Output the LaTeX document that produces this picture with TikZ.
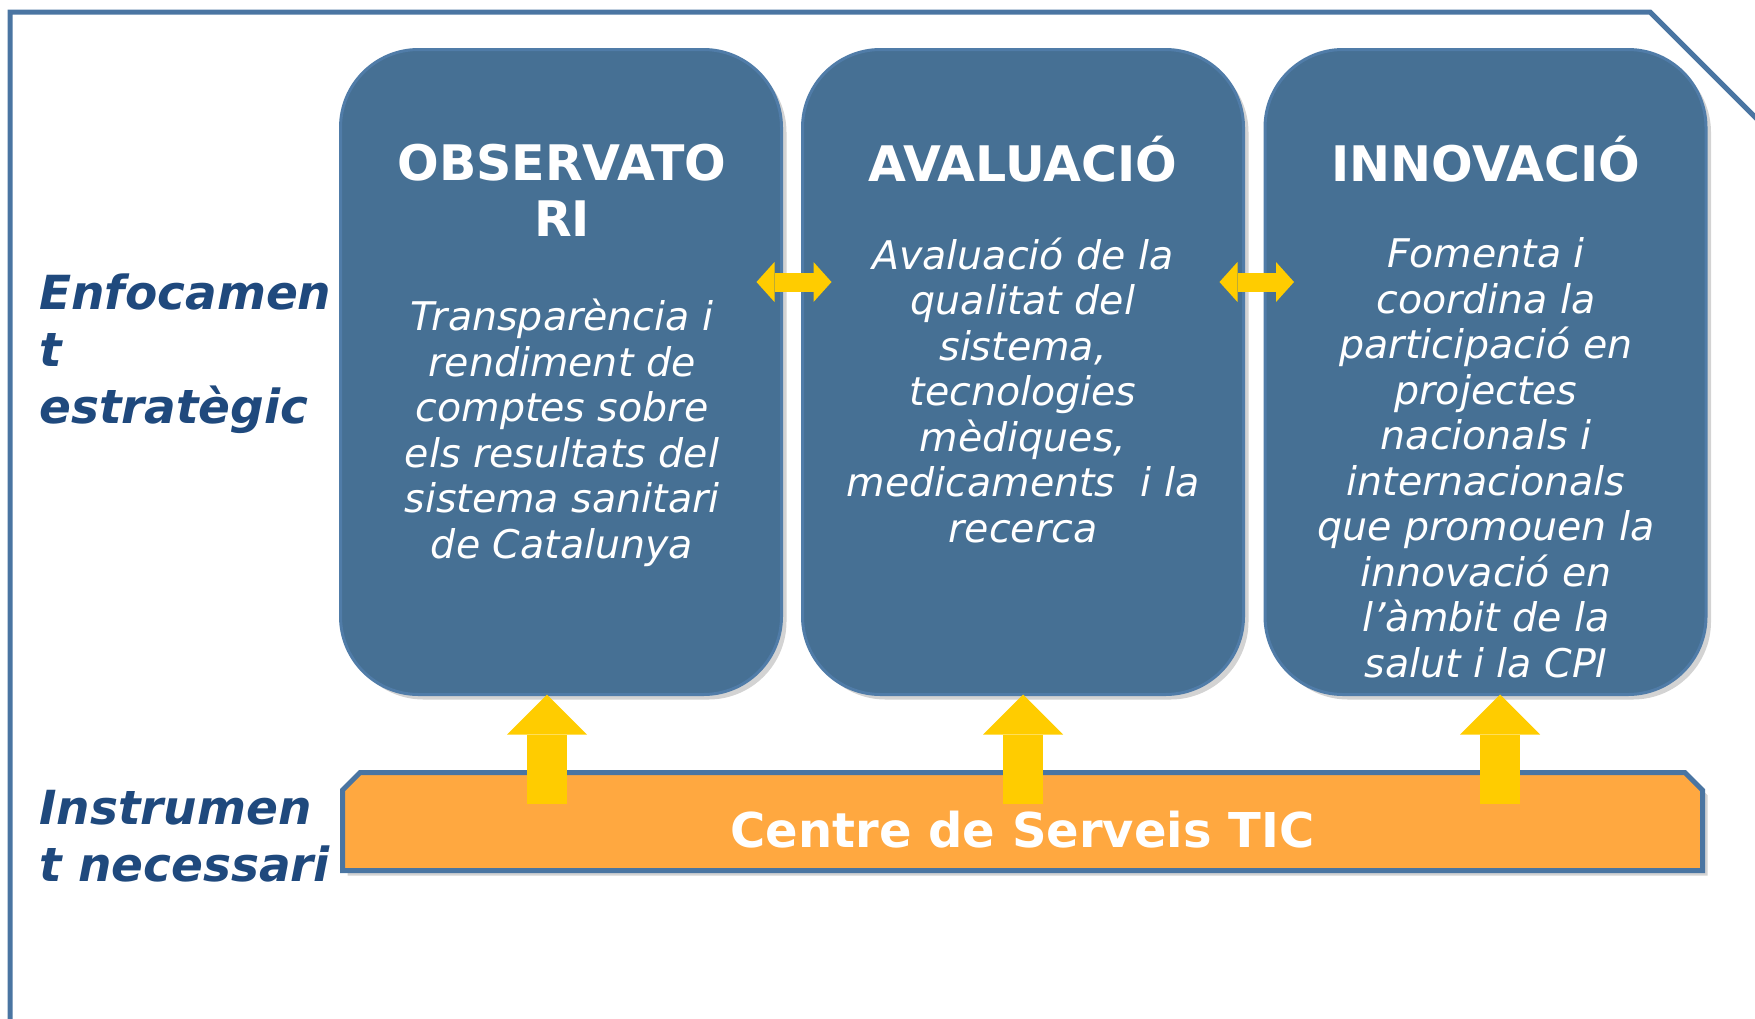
\documentclass[tikz,border=0pt]{standalone}
\usepackage{fontspec}
\setmainfont{DejaVu Sans}
\usetikzlibrary{arrows.meta,shapes.misc,shadows}

\definecolor{boxblue}{RGB}{70,112,148}
\definecolor{rimblue}{RGB}{80,124,168}
\definecolor{frameblue}{RGB}{74,117,162}
\definecolor{labelblue}{RGB}{31,73,125}
\definecolor{arrowyellow}{RGB}{255,204,0}
\definecolor{barorange}{RGB}{255,168,64}

\tikzset{
  pillar/.style={draw=rimblue, line width=3pt, fill=boxblue, rounded corners=78pt,
    minimum width=441pt, minimum height=645pt,
    drop shadow={shadow xshift=5pt, shadow yshift=-5pt, opacity=0.35}},
  headtext/.style={text=white, align=center, inner sep=0pt,
    font=\fontsize{49}{56}\selectfont\bfseries},
  bodytext/.style={text=white, align=center, inner sep=0pt,
    font=\fontsize{39.5}{45.5}\selectfont\itshape},
  sidetext/.style={text=labelblue, align=left, inner sep=0pt,
    font=\fontsize{47}{57}\selectfont\bfseries\itshape},
  twoway/.style={draw=arrowyellow, line width=19pt,
    {Triangle[length=18pt,width=40pt,line width=0pt]}-{Triangle[length=18pt,width=40pt,line width=0pt]}},
  uparrow/.style={draw=arrowyellow, line width=40pt,
    -{Triangle[length=40pt,width=80pt,line width=0pt]}}
}

\begin{document}
\begin{tikzpicture}[x=1pt, y=-1pt]
\useasboundingbox (0,0) rectangle (1755,1018);

% frame
\draw[frameblue, line width=5pt] (10,1030) -- (10,12) -- (1650,12) -- (1790,152);

% three pillars
\node[pillar] (obs) at (561,372) {};
\node[pillar] (aval) at (1023,372) {};
\node[pillar] (innov) at (1485.5,372) {};

\node[headtext] (obstitle) at (562,190) {OBSERVATO\\RI};
\node[headtext] (avaltitle) at (1023,159) {AVALUACIÓ};
\node[headtext] (innovtitle) at (1486,159) {INNOVACIÓ};

\node[bodytext] (obstext) at (562,433)
{Transparència i\\rendiment de\\comptes sobre\\els resultats del\\sistema sanitari\\de Catalunya};

\node[bodytext] (avaltext) at (1023,390)
{Avaluació de la\\qualitat del\\sistema,\\tecnologies\\mèdiques,\\medicaments~ i la\\recerca};

\node[bodytext] (innovtext) at (1486,458)
{Fomenta i\\coordina la\\participació en\\projectes\\nacionals i\\internacionals\\que promouen la\\innovació en\\l’àmbit de la\\salut i la CPI};

% side labels
\node[sidetext, anchor=west] (focus) at (39,354) {Enfocamen\\t\\estratègic};
\node[sidetext, anchor=west] (tool) at (39,836) {Instrumen\\t necessari};

% base bar
\node[chamfered rectangle, chamfered rectangle corners={north west,north east},
  chamfered rectangle xsep=14pt, draw=frameblue, line width=5pt, fill=barorange,
  minimum width=1360pt, minimum height=98pt, inner sep=0pt,
  text height=51pt, text depth=0pt,
  text=white, font=\fontsize{48}{56}\selectfont\bfseries,
  drop shadow={shadow xshift=5pt, shadow yshift=-5pt, opacity=0.35}]
  (tic) at (1022.5,821.5) {Centre de Serveis TIC};

\draw[twoway, shorten <=-26.5pt, shorten >=-30.5pt] ([yshift=90pt]obs.east) -- ([yshift=90pt]aval.west);
\draw[twoway, shorten <=-25.5pt, shorten >=-30.5pt] ([yshift=90pt]aval.east) -- ([yshift=90pt]innov.west);

\draw[uparrow] ([xshift=-14pt,yshift=-107.5pt]obs.south) -- ([xshift=-14pt,yshift=1.5pt]obs.south);
\draw[uparrow] ([yshift=-107.5pt]aval.south) -- ([yshift=1.5pt]aval.south);
\draw[uparrow] ([xshift=14.5pt,yshift=-107.5pt]innov.south) -- ([xshift=14.5pt,yshift=1.5pt]innov.south);

\end{tikzpicture}
\end{document}
